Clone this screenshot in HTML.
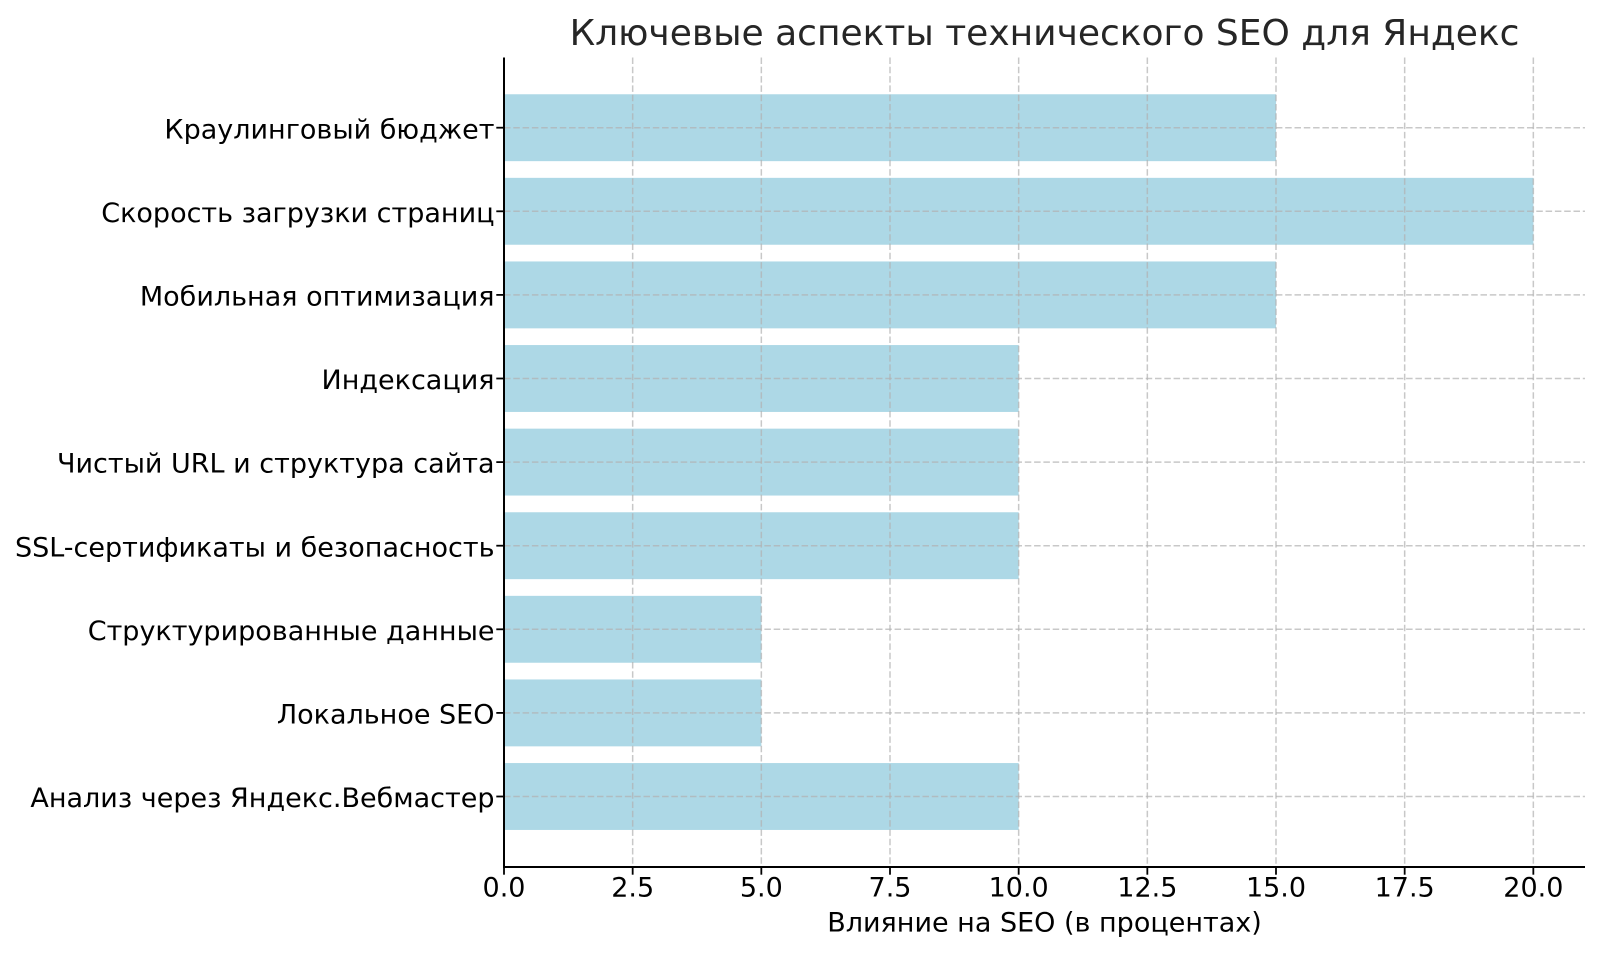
<!DOCTYPE html>
<html>
<head>
<meta charset="utf-8">
<style>
  html, body { margin: 0; padding: 0; background: #ffffff; }
  svg { display: block; }
  text { font-family: "DejaVu Sans", "Liberation Sans", sans-serif; }
</style>
</head>
<body>
<svg width="1600" height="954" viewBox="0 0 1600 954" xmlns="http://www.w3.org/2000/svg">
  <rect x="0" y="0" width="1600" height="954" fill="#ffffff"/>

  <!-- Title -->
  <text x="1044.5" y="45" font-size="36" fill="#262626" text-anchor="middle">Ключевые аспекты технического SEO для Яндекс</text>

  <!-- Bars -->
  <g fill="#ADD8E6">
    <rect x="504" y="94.25" width="772.05" height="66.9"/>
    <rect x="504" y="177.85" width="1029.4" height="66.9"/>
    <rect x="504" y="261.45" width="772.05" height="66.9"/>
    <rect x="504" y="345.05" width="514.7" height="66.9"/>
    <rect x="504" y="428.65" width="514.7" height="66.9"/>
    <rect x="504" y="512.25" width="514.7" height="66.9"/>
    <rect x="504" y="595.85" width="257.35" height="66.9"/>
    <rect x="504" y="679.45" width="257.35" height="66.9"/>
    <rect x="504" y="763.05" width="514.7" height="66.9"/>
  </g>

  <!-- Grid -->
  <g stroke="#b0b0b0" stroke-opacity="0.7" stroke-width="1.5" stroke-dasharray="6.5,2.8" fill="none">
    <line x1="632.67" y1="57.5" x2="632.67" y2="867"/>
    <line x1="761.33" y1="57.5" x2="761.33" y2="867"/>
    <line x1="890" y1="57.5" x2="890" y2="867"/>
    <line x1="1018.67" y1="57.5" x2="1018.67" y2="867"/>
    <line x1="1147.33" y1="57.5" x2="1147.33" y2="867"/>
    <line x1="1276" y1="57.5" x2="1276" y2="867"/>
    <line x1="1404.67" y1="57.5" x2="1404.67" y2="867"/>
    <line x1="1533.33" y1="57.5" x2="1533.33" y2="867"/>

    <line x1="504" y1="127.7" x2="1585" y2="127.7"/>
    <line x1="504" y1="211.3" x2="1585" y2="211.3"/>
    <line x1="504" y1="294.9" x2="1585" y2="294.9"/>
    <line x1="504" y1="378.5" x2="1585" y2="378.5"/>
    <line x1="504" y1="462.1" x2="1585" y2="462.1"/>
    <line x1="504" y1="545.7" x2="1585" y2="545.7"/>
    <line x1="504" y1="629.3" x2="1585" y2="629.3"/>
    <line x1="504" y1="712.9" x2="1585" y2="712.9"/>
    <line x1="504" y1="796.5" x2="1585" y2="796.5"/>
  </g>

  <!-- Spines -->
  <g stroke="#000000" stroke-width="2" fill="none">
    <line x1="504" y1="57.5" x2="504" y2="868"/>
    <line x1="503" y1="867" x2="1585" y2="867"/>
  </g>

  <!-- Y ticks -->
  <g stroke="#000000" stroke-width="1.8">
    <line x1="496.3" y1="127.7" x2="504" y2="127.7"/>
    <line x1="496.3" y1="211.3" x2="504" y2="211.3"/>
    <line x1="496.3" y1="294.9" x2="504" y2="294.9"/>
    <line x1="496.3" y1="378.5" x2="504" y2="378.5"/>
    <line x1="496.3" y1="462.1" x2="504" y2="462.1"/>
    <line x1="496.3" y1="545.7" x2="504" y2="545.7"/>
    <line x1="496.3" y1="629.3" x2="504" y2="629.3"/>
    <line x1="496.3" y1="712.9" x2="504" y2="712.9"/>
    <line x1="496.3" y1="796.5" x2="504" y2="796.5"/>
  </g>

  <!-- X ticks -->
  <g stroke="#000000" stroke-width="1.8">
    <line x1="504" y1="867" x2="504" y2="874.7"/>
    <line x1="632.67" y1="867" x2="632.67" y2="874.7"/>
    <line x1="761.33" y1="867" x2="761.33" y2="874.7"/>
    <line x1="890" y1="867" x2="890" y2="874.7"/>
    <line x1="1018.67" y1="867" x2="1018.67" y2="874.7"/>
    <line x1="1147.33" y1="867" x2="1147.33" y2="874.7"/>
    <line x1="1276" y1="867" x2="1276" y2="874.7"/>
    <line x1="1404.67" y1="867" x2="1404.67" y2="874.7"/>
    <line x1="1533.33" y1="867" x2="1533.33" y2="874.7"/>
  </g>

  <!-- Y tick labels -->
  <g font-size="27" fill="#000000" text-anchor="end">
    <text x="494.5" y="138.3">Краулинговый бюджет</text>
    <text x="494.5" y="221.9">Скорость загрузки страниц</text>
    <text x="494.5" y="305.5">Мобильная оптимизация</text>
    <text x="494.5" y="389.1">Индексация</text>
    <text x="494.5" y="472.7">Чистый URL и структура сайта</text>
    <text x="494.5" y="556.3">SSL-сертификаты и безопасность</text>
    <text x="494.5" y="639.9">Структурированные данные</text>
    <text x="494.5" y="723.5">Локальное SEO</text>
    <text x="494.5" y="807.1">Анализ через Яндекс.Вебмастер</text>
  </g>

  <!-- X tick labels -->
  <g font-size="27" fill="#000000" text-anchor="middle">
    <text x="504" y="896.7">0.0</text>
    <text x="632.67" y="896.7">2.5</text>
    <text x="761.33" y="896.7">5.0</text>
    <text x="890" y="896.7">7.5</text>
    <text x="1018.67" y="896.7">10.0</text>
    <text x="1147.33" y="896.7">12.5</text>
    <text x="1276" y="896.7">15.0</text>
    <text x="1404.67" y="896.7">17.5</text>
    <text x="1533.33" y="896.7">20.0</text>
  </g>

  <!-- X axis label -->
  <text x="1044.5" y="931.7" font-size="27" fill="#000000" text-anchor="middle">Влияние на SEO (в процентах)</text>
</svg>
</body>
</html>
